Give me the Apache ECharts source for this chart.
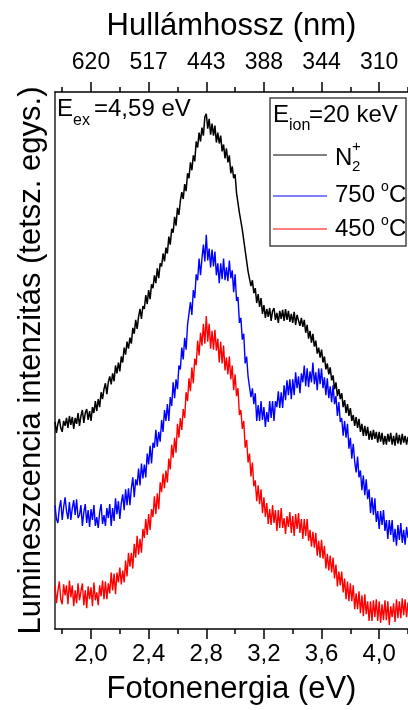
<!DOCTYPE html>
<html><head><meta charset="utf-8">
<script src="https://cdn.jsdelivr.net/npm/echarts@6/dist/echarts.min.js"></script>
<style>html,body{margin:0;padding:0;background:#fff}#c{width:408px;height:710px}</style>
</head><body><div id="c"></div>
<script>
// photon energy sampling (eV)
var energyStart = 1.75;
var energyStep = 0.01;
// tick labels
var majorTicks = [2.0, 2.4, 2.8, 3.2, 3.6, 4.0];
var minorTicks = [1.8, 2.2, 2.6, 3.0, 3.4, 3.8, 4.2];
var wavelengthLabels = ['620', '517', '443', '388', '344', '310'];
var seriesNames = ['N2+', '750 °C', '450 °C'];
// intensities (arb. units), one value per 0.01 eV from 1.75 to 4.20
var n2Values = [
209,198,207,212,203, 199,210,205,213,203, 215,206,214,202,213, 207,218,205,215,221,
208,218,222,211,220, 210,224,218,230,220, 232,224,239,232,242, 248,237,249,255,247,
258,250,266,258,269, 260,275,269,284,277, 290,283,294,288,304, 298,312,303,315,323,
313,326,323,337,328, 342,333,348,344,357, 349,364,354,369,366, 379,371,385,379,396,
388,404,400,416,407, 425,418,432,441,434, 449,442,460,455,471, 463,478,472,492,486,
501,492,506,498,517, 520,505,515,499,510, 498,508,491,501,490, 498,482,489,475,485,
471,478,460,467,455, 459,440,441,420,419, 403,401,382,382,361, 360,346,352,339,344,
329,338,325,334,318, 327,314,323,315,324, 311,321,324,312,319, 309,321,313,322,311,
323,312,321,310,318, 309,320,307,317,318, 306,314,305,312,299, 307,293,301,289,298,
285,291,278,284,274, 282,269,275,262,268, 257,264,251,256,242, 249,235,242,232,238,
224,231,218,227,215, 223,210,216,205,214, 203,212,199,207,195, 205,195,204,191,200,
191,201,192,199,188, 199,189,198,186,195, 186,197,189,198,186, 195,185,198,187,196,
186,197,188,195,186, 194];
var t750Values = [
125,111,107,122,130, 110,123,133,119,111, 128,110,122,130,115, 131,112,115,125,104,
118,126,107,120,103, 121,110,125,104,113, 102,118,126,106,115, 104,122,112,126,104,
122,109,132,116,129, 111,127,136,120,141, 125,142,125,142,153, 133,151,145,162,145,
167,152,166,153,177, 166,185,167,188,183, 201,184,199,189,211, 199,221,210,227,210,
234,225,249,233,252, 242,266,262,284,272, 294,282,307,305,330, 317,342,334,358,352,
374,357,374,388,371, 398,372,384,365,383, 366,381,357,369,349, 369,353,374,352,365,
351,372,354,362,340, 358,331,335,309,314, 292,298,268,275,255, 257,234,243,227,238,
210,226,210,230,211, 224,204,219,209,230, 213,230,210,230,224, 240,223,239,223,246,
231,251,236,252,232, 252,236,259,243,255, 238,258,249,266,245, 263,244,260,249,269,
247,259,241,263,247, 263,243,254,236,253, 233,245,229,246,227, 235,215,229,209,213,
195,210,193,207,182, 193,172,187,169,158, 174,153,160,140,155, 135,151,131,141,117,
133,115,132,108,119, 101,119,105,120,99, 110,91,110,95,110, 88,101,84,105,90,
107,87,100,85,103, 92];
var t450Values = [
44,26,38,48,30, 25,45,34,44,25, 49,32,44,23,39, 26,46,29,38,46,
24,39,21,43,30, 42,23,47,29,37, 24,44,33,49,30, 48,30,46,36,57,
39,56,35,57,47, 62,45,59,47,69, 53,77,63,77,61, 86,72,94,75,91,
77,101,92,111,95, 116,100,121,113,134, 116,137,121,148,138, 157,142,160,148,172,
161,186,173,193,178, 207,193,213,201,222, 213,239,230,253,240, 264,248,273,266,291,
276,299,286,308,288, 316,290,308,283,301, 282,302,281,293,269, 290,268,286,261,274,
257,275,252,266,241, 257,235,243,216,221, 202,210,183,191,168, 177,154,168,144,150,
129,145,126,141,117, 133,113,127,106,121, 105,125,107,120,99, 120,102,122,102,112,
96,114,103,118,97, 114,94,116,101,117, 97,111,91,111,94, 111,89,100,83,98,
82,97,74,89,72, 90,71,84,61,76, 59,74,57,72,51, 65,43,58,44,58,
37,51,30,48,28, 46,28,44,20,36, 20,38,16,34,13, 35,15,28,8,28,
8,29,12,30,8, 28,6,25,9,29, 9,28,4,23,12, 26,7,30,11,28,
11,31,14,30,12, 27];

function pairs(vals){
  var out = [];
  for (var i = 0; i < vals.length; i++) out.push([+(energyStart + i*energyStep).toFixed(2), vals[i]]);
  return out;
}
var FONT = '"Liberation Sans", Arial, sans-serif';
var chart = echarts.init(document.getElementById('c'), null, {renderer:'canvas'});
var X0 = {type:'value', min:1.75, max:4.2, splitLine:{show:false}};
function ax(extra){ return Object.assign({}, X0, extra); }
var axisLine = {show:true, lineStyle:{color:'#000', width:1.5}};
chart.setOption({
  animation:false,
  backgroundColor:'#fff',
  grid:{left:55, right:0, top:92, bottom:76, containLabel:false},
  xAxis:[
    ax({position:'bottom', axisLine:axisLine,
        axisTick:{show:true, inside:false, length:10, customValues:majorTicks, lineStyle:{color:'#000', width:1.5}},
        axisLabel:{show:true, customValues:majorTicks, margin:13, fontSize:24, color:'#000', fontFamily:FONT,
          formatter:function(v){return v.toFixed(1).replace('.', ',');}},
        name:'Fotonenergia (eV)', nameLocation:'middle', nameGap:45,
        nameTextStyle:{fontSize:31, color:'#000', fontFamily:FONT}}),
    ax({position:'bottom', axisLine:{show:false},
        axisTick:{show:true, inside:false, length:5, customValues:minorTicks, lineStyle:{color:'#000', width:1.5}},
        axisLabel:{show:false}}),
    ax({position:'top', axisLine:axisLine,
        axisTick:{show:true, inside:false, length:10, customValues:majorTicks, lineStyle:{color:'#000', width:1.5}},
        axisLabel:{show:true, customValues:majorTicks, margin:18, fontSize:23, color:'#000', fontFamily:FONT,
          formatter:function(v){
            for (var i=0;i<majorTicks.length;i++) if (Math.abs(majorTicks[i]-v)<1e-6) return wavelengthLabels[i];
            return '';}},
        name:'Hullámhossz (nm)', nameLocation:'middle', nameGap:50,
        nameTextStyle:{fontSize:31, color:'#000', fontFamily:FONT}}),
    ax({position:'top', axisLine:{show:false},
        axisTick:{show:true, inside:false, length:5, customValues:minorTicks, lineStyle:{color:'#000', width:1.5}},
        axisLabel:{show:false}})
  ],
  yAxis:[{type:'value', min:0, max:542, position:'left',
    axisLine:{show:true, lineStyle:{color:'#222', width:1.5}},
    axisTick:{show:false}, axisLabel:{show:false}, splitLine:{show:false},
    name:'Lumineszcencia intenzitás (tetsz. egys.)', nameLocation:'middle', nameGap:8,
    nameTextStyle:{fontSize:31, color:'#000', fontFamily:FONT}}],
  series:[
    {name:seriesNames[0], type:'line', data:pairs(n2Values), showSymbol:false, symbol:'none',
      lineStyle:{color:'#000', width:1.5}, itemStyle:{color:'#000'}, z:3},
    {name:seriesNames[1], type:'line', data:pairs(t750Values), showSymbol:false, symbol:'none',
      lineStyle:{color:'#0000ff', width:1.4}, itemStyle:{color:'#0000ff'}, z:2},
    {name:seriesNames[2], type:'line', data:pairs(t450Values), showSymbol:false, symbol:'none',
      lineStyle:{color:'#ff0000', width:1.4}, itemStyle:{color:'#ff0000'}, z:2}
  ],
  graphic:[
    {type:'text', left:57, top:97, style:{text:'E', font:'24px '+FONT, fill:'#000'}},
    {type:'text', left:73, top:113, style:{text:'ex', font:'16px '+FONT, fill:'#000'}},
    {type:'text', left:94, top:97, style:{text:'=4,59 eV', font:'24px '+FONT, fill:'#000'}},
    {type:'rect', shape:{x:270, y:98, width:136, height:148}, style:{fill:'#fff', stroke:'#444', lineWidth:1.5}, z:10},
    {type:'text', x:273, y:103, z:11, style:{text:'E', font:'24px '+FONT, fill:'#000'}},
    {type:'text', x:289, y:118, z:11, style:{text:'ion', font:'16px '+FONT, fill:'#000'}},
    {type:'text', x:309, y:103, z:11, style:{text:'=20 keV', font:'24px '+FONT, fill:'#000'}},
    {type:'line', z:11, shape:{x1:273, y1:155, x2:327, y2:155}, style:{stroke:'#000', lineWidth:1}},
    {type:'line', z:11, shape:{x1:273, y1:196, x2:327, y2:196}, style:{stroke:'#0000ff', lineWidth:1}},
    {type:'line', z:11, shape:{x1:273, y1:229, x2:327, y2:229}, style:{stroke:'#ff0000', lineWidth:1}},
    {type:'text', x:335, y:146, z:11, style:{text:'N', font:'24px '+FONT, fill:'#000'}},
    {type:'text', x:352, y:139, z:11, style:{text:'+', font:'15px '+FONT, fill:'#000'}},
    {type:'text', x:352, y:159, z:11, style:{text:'2', font:'15px '+FONT, fill:'#000'}},
    {type:'text', x:335, y:183, z:11, style:{text:'750', font:'24px '+FONT, fill:'#000'}},
    {type:'text', x:381, y:180, z:11, style:{text:'o', font:'14px '+FONT, fill:'#000'}},
    {type:'text', x:389, y:183, z:11, style:{text:'C', font:'24px '+FONT, fill:'#000'}},
    {type:'text', x:335, y:217, z:11, style:{text:'450', font:'24px '+FONT, fill:'#000'}},
    {type:'text', x:381, y:214, z:11, style:{text:'o', font:'14px '+FONT, fill:'#000'}},
    {type:'text', x:389, y:217, z:11, style:{text:'C', font:'24px '+FONT, fill:'#000'}}
  ]
});
</script></body></html>
